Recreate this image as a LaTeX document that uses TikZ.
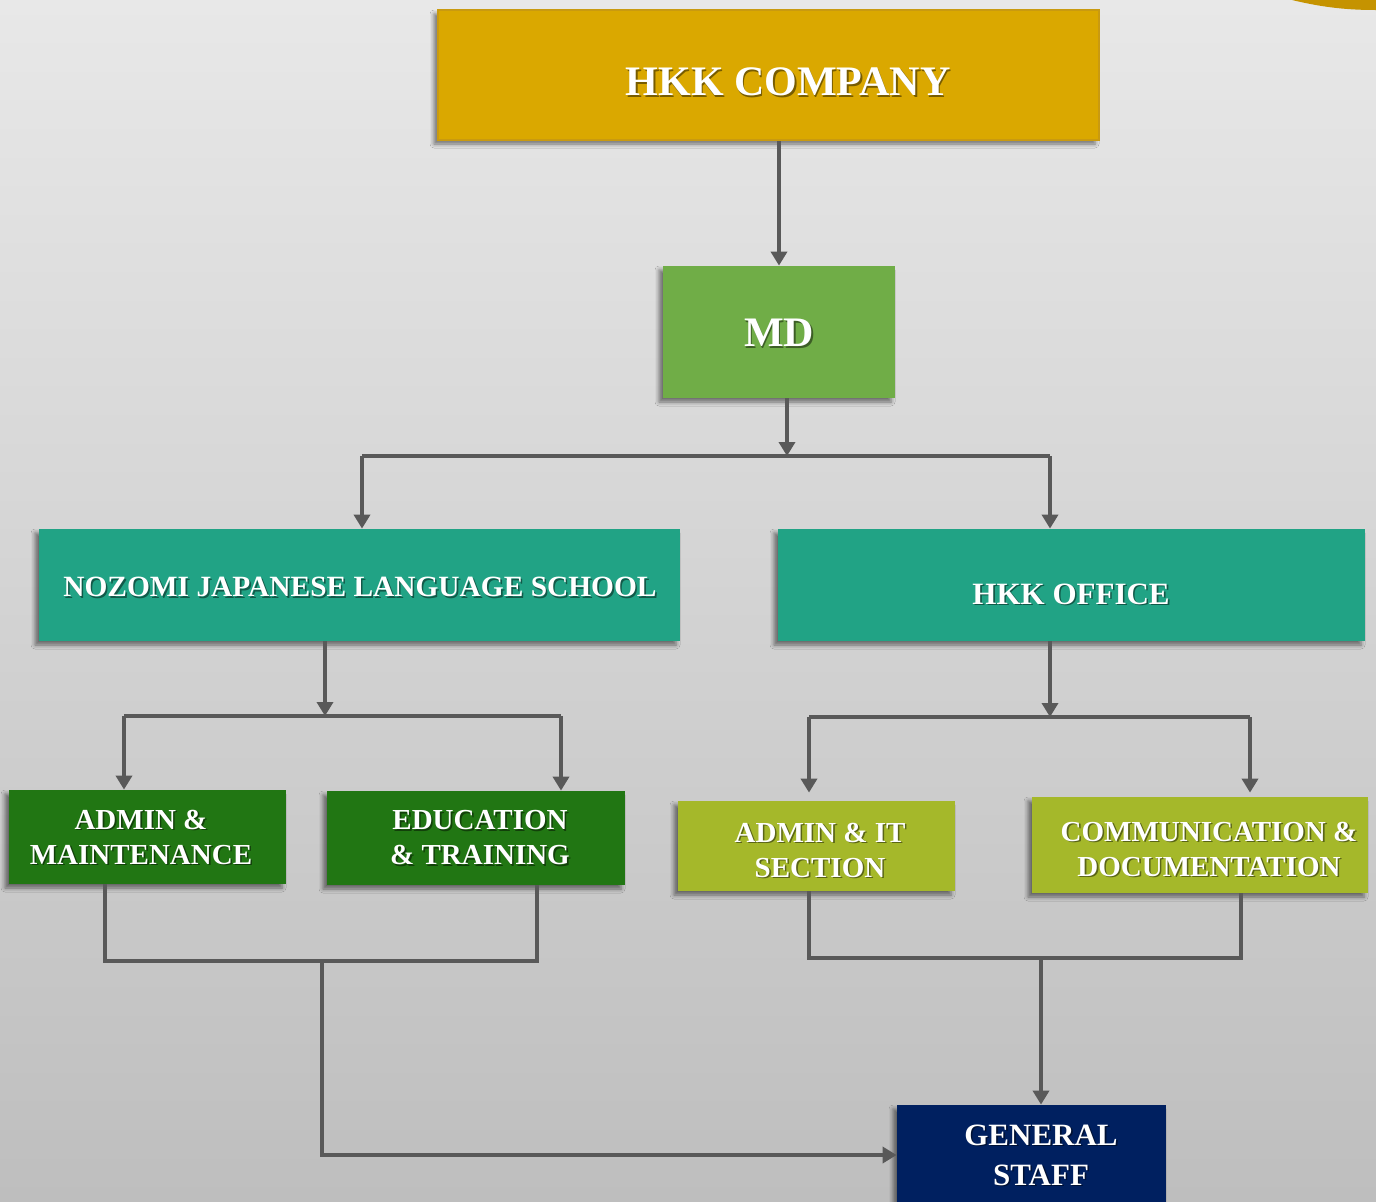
\documentclass[tikz,border=0pt]{standalone}
\usepackage{fontspec}
\setmainfont{Liberation Serif}
\usetikzlibrary{arrows.meta,shadows.blur,calc}
\definecolor{bgtop}{HTML}{E8E8E8}
\definecolor{bgbot}{HTML}{BEBEBE}
\definecolor{goldc}{HTML}{DAA800}
\definecolor{goldb}{HTML}{C99A10}
\definecolor{arcc}{HTML}{C59300}
\definecolor{mdc}{HTML}{70AD47}
\definecolor{tealc}{HTML}{21A385}
\definecolor{dgreen}{HTML}{217613}
\definecolor{ygreen}{HTML}{A5B82A}
\definecolor{navyc}{HTML}{002060}
\definecolor{linec}{HTML}{595959}
\newcommand\fA{\fontsize{21pt}{25pt}\selectfont\bfseries}
\newcommand\fB{\fontsize{14.7pt}{18pt}\selectfont\bfseries}
\newcommand\fC{\fontsize{15.5pt}{18pt}\selectfont\bfseries}
\newcommand\fD{\fontsize{14.5pt}{17.5pt}\selectfont\bfseries}
\newcommand\fE{\fontsize{15.5pt}{20pt}\selectfont\bfseries}
\newcommand\lab[4]{%
  \node[lbl,font=#3,text=black,opacity=0.45] (#1s) at ($#2+(1.6,1.6)$) {#4};
  \node[lbl,font=#3] (#1) at #2 {#4};}
\tikzset{
  box/.style={rectangle, inner sep=0pt, draw=none,
    blur shadow={shadow xshift=-2pt, shadow yshift=-2pt, shadow blur radius=2pt, shadow opacity=50}},
  lbl/.style={text=white, align=center, inner sep=0pt},
  conn/.style={draw=linec, line width=1.8pt},
  arr/.style={conn, -{Triangle[length=7pt 0,width=8pt 0]}}
}
\begin{document}
\begin{tikzpicture}[x=0.5pt,y=-0.5pt]
\useasboundingbox (0,0) rectangle (1376,1201);
\clip (0,0) rectangle (1376,1201);
\shade[top color=bgtop,bottom color=bgbot] (0,0) rectangle (1376,1201);
\fill[arcc] (1292,0) .. controls (1325,8) and (1350,10) .. (1376,10) -- (1376,0) -- cycle;

% boxes
\node[box, fill=goldc, draw=goldb, line width=1pt, minimum width=330.5pt, minimum height=65pt] (hkk) at (768.5,75) {};
\node[box, fill=mdc, minimum width=116pt, minimum height=66pt] (md) at (779,332) {};
\node[box, fill=tealc, minimum width=320.5pt, minimum height=56pt] (noz) at (359.5,585) {};
\node[box, fill=tealc, minimum width=293.5pt, minimum height=56pt] (off) at (1071.5,585) {};
\node[box, fill=dgreen, minimum width=138.5pt, minimum height=47pt] (adm) at (147.5,837) {};
\node[box, fill=dgreen, minimum width=149pt, minimum height=47pt] (edu) at (476,838) {};
\node[box, fill=ygreen, minimum width=138.5pt, minimum height=45pt] (ait) at (816.5,846) {};
\node[box, fill=ygreen, minimum width=168pt, minimum height=48pt] (com) at (1200,845) {};
\node[box, fill=navyc, minimum width=134.5pt, minimum height=50pt] (gen) at (1031.5,1155) {};

% labels
\lab{thkk}{(788,82)}{\fA}{HKK COMPANY}
\lab{tmd}{(779,333)}{\fA}{MD}
\lab{tnoz}{(360,587)}{\fB}{NOZOMI JAPANESE LANGUAGE SCHOOL}
\lab{toff}{(1071,594)}{\fC}{HKK OFFICE}
\lab{tadm}{(141,837)}{\fD}{ADMIN \&\\MAINTENANCE}
\lab{tedu}{(480,838)}{\fD}{EDUCATION\\\& TRAINING}
\lab{tait}{(820,850)}{\fD}{ADMIN \& IT\\SECTION}
\lab{tcom}{(1209,849)}{\fD}{COMMUNICATION \&\\DOCUMENTATION}
\lab{tgen}{(1041,1155)}{\fE}{GENERAL\\STAFF}

% connectors
\draw[arr] (hkk.south -| md.north) -- (md.north);

\coordinate (b1) at (787,456);
\coordinate (b1l) at (362,456);
\coordinate (b1r) at (1050,456);
\draw[conn] (b1l) -- (b1r);
\draw[arr] (md.south -| b1) -- (b1);
\draw[arr] (b1l) -- (b1l |- noz.north);
\draw[arr] (b1r) -- (b1r |- off.north);

\coordinate (b2) at (325,716);
\coordinate (b2l) at (124,716);
\coordinate (b2r) at (561,716);
\draw[conn] (b2l) -- (b2r);
\draw[arr] (noz.south -| b2) -- (b2);
\draw[arr] (b2l) -- (b2l |- adm.north);
\draw[arr] (b2r) -- (b2r |- edu.north);

\coordinate (b3) at (1050,717);
\coordinate (b3l) at (809,717);
\coordinate (b3r) at (1250,717);
\draw[conn] (b3l) -- (b3r);
\draw[arr] (off.south -| b3) -- (b3);
\draw[arr, shorten >=4pt] (b3l) -- (b3l |- ait.north);
\draw[arr, shorten >=2pt] (b3r) -- (b3r |- com.north);

\coordinate (c1) at (322,961);
\coordinate (c1l) at (105,961);
\coordinate (c1r) at (537,961);
\draw[conn] (adm.south -| c1l) -- (c1l) -- (c1r) -- (edu.south -| c1r);
\draw[arr] (c1) -- (c1 |- gen.west) -- (gen.west);

\coordinate (c2) at (1041,958);
\coordinate (c2l) at (809,958);
\coordinate (c2r) at (1241,958);
\draw[conn] (ait.south -| c2l) -- (c2l) -- (c2r) -- (com.south -| c2r);
\draw[arr] (c2) -- (c2 |- gen.north);
\end{tikzpicture}
\end{document}
